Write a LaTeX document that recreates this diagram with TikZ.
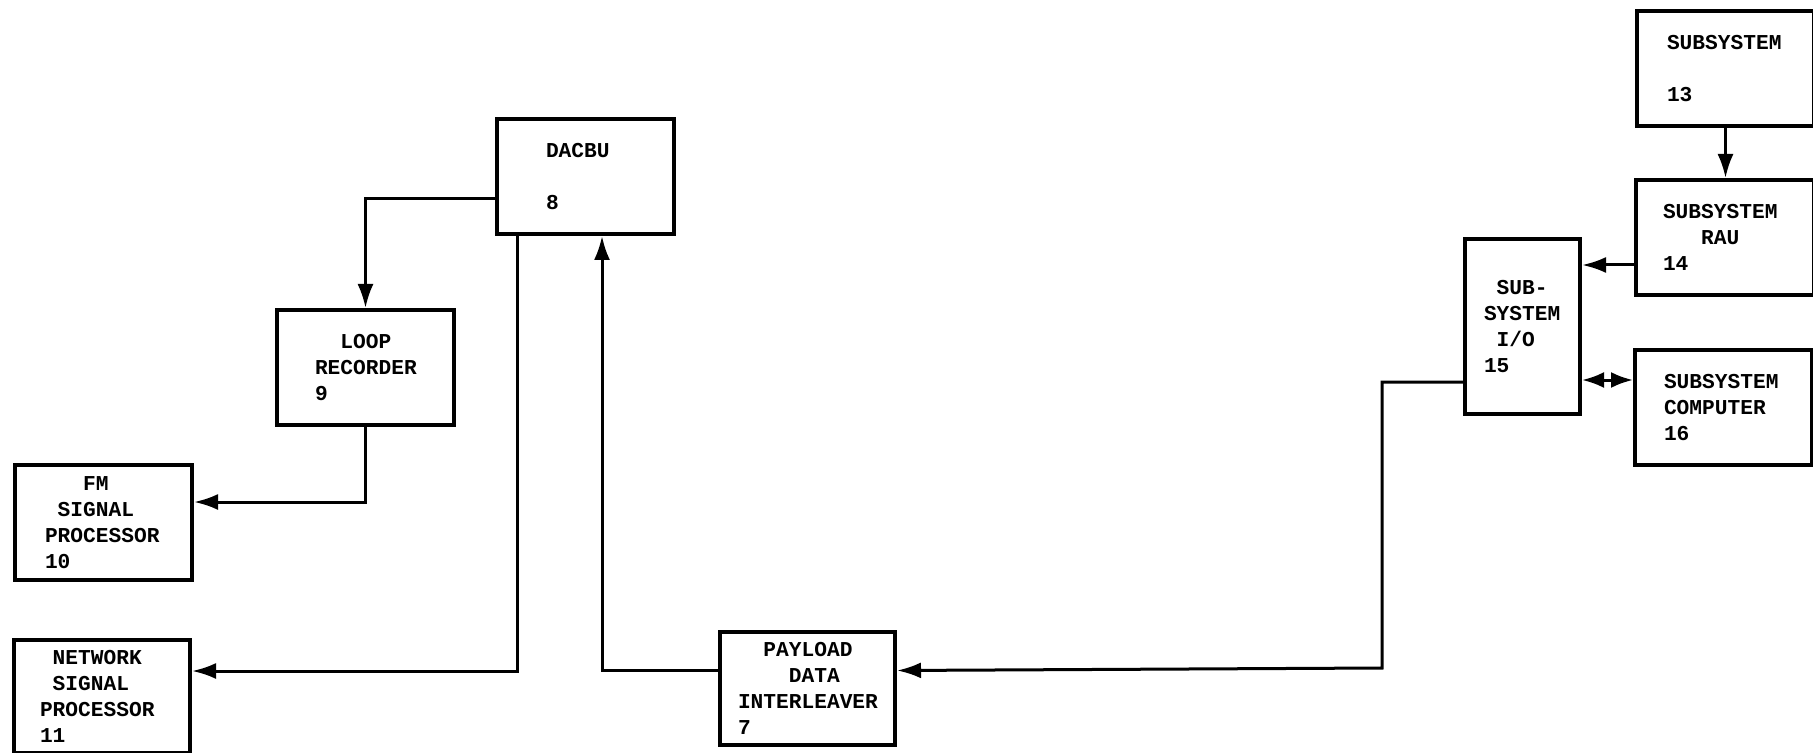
\documentclass[tikz,border=0pt]{standalone}
\usepackage{fontspec}
\usetikzlibrary{arrows.meta}
\newfontfamily\typewr{Liberation Mono}
\newcommand{\indt}[1]{\hspace*{#1\fontdimen2\font}}

\begin{document}
\begin{tikzpicture}[x=0.5pt, y=-0.5pt,
    blk/.style={draw, line width=2pt, anchor=north west, align=left,
        inner ysep=2pt, font=\typewr\bfseries\fontsize{10.6}{13}\selectfont},
    arr/.style={line width=1.5pt, -{Latex[length=12pt, width=8pt]}},
    biarr/.style={line width=1.5pt, {Latex[length=11pt, width=8pt]}-{Latex[length=11pt, width=8pt]}}]

    \fill[white] (0,0) rectangle (1813,753);
    \useasboundingbox (0,0) rectangle (1813,753);

    % 方框
    \node[blk, minimum width=88.5pt, minimum height=57.5pt, inner xsep=24.5pt, text width=39.5pt] (dacbu) at (495,117) {DACBU\\[13pt]8};
    \node[blk, minimum width=88.5pt, minimum height=57.5pt, inner xsep=19pt, text width=50.5pt] (loop) at (275,308) {\indt{2}LOOP\\RECORDER\\9};
    \node[blk, minimum width=88.5pt, minimum height=57.5pt, inner xsep=15pt, text width=58.5pt] (fm) at (13,463) {\indt{3}FM\\\indt{1}SIGNAL\\PROCESSOR\\10};
    \node[blk, minimum width=88pt, minimum height=56.5pt, inner xsep=13pt, text width=62pt] (net) at (12,638) {\indt{1}NETWORK\\\indt{1}SIGNAL\\PROCESSOR\\11};
    \node[blk, minimum width=87.5pt, minimum height=56.5pt, inner xsep=9pt, text width=69.5pt] (pdi) at (718,630) {\indt{2}PAYLOAD\\\indt{4}DATA\\INTERLEAVER\\7};
    \node[blk, minimum width=88.5pt, minimum height=57.5pt, inner xsep=15pt, text width=58.5pt] (ss13) at (1635,9) {SUBSYSTEM\\[13pt]13};
    \node[blk, minimum width=89pt, minimum height=57.5pt, inner xsep=13.5pt, text width=62pt] (rau) at (1634,178) {SUBSYSTEM\\\indt{3}RAU\\14};
    \node[blk, minimum width=57.5pt, minimum height=87.5pt, inner xsep=9.5pt, text width=38.5pt] (sio) at (1463,237) {\indt{1}SUB-\\SYSTEM\\\indt{1}I/O\\15};
    \node[blk, minimum width=88.5pt, minimum height=57.5pt, inner xsep=14.5pt, text width=59.5pt] (comp) at (1633,348) {SUBSYSTEM\\COMPUTER\\16};

    % 连线
    \draw[arr] ([yshift=-11.25pt]dacbu.west) -| (loop.north);
    \draw[arr] (loop.south) |- ([yshift=10.25pt]fm.east);
    \draw[arr] ([xshift=-34.25pt]dacbu.south) |- ([yshift=12.75pt]net.east);
    \draw[arr] ([yshift=9pt]pdi.west) -| ([xshift=8.25pt]dacbu.south);

    \coordinate (bendR) at (1382,668);
    \draw[arr] ([yshift=-27.75pt]sio.west) -| (bendR) -- ([yshift=9pt]pdi.east);

    \draw[arr] (ss13.south) -- (ss13.south |- rau.north);
    \draw[arr] ([yshift=-13.75pt]rau.west) -- ([yshift=-13.75pt]rau.west -| sio.east);
    \draw[biarr] ([yshift=13.75pt]comp.west -| sio.east) -- ([yshift=13.75pt]comp.west);
\end{tikzpicture}
\end{document}
